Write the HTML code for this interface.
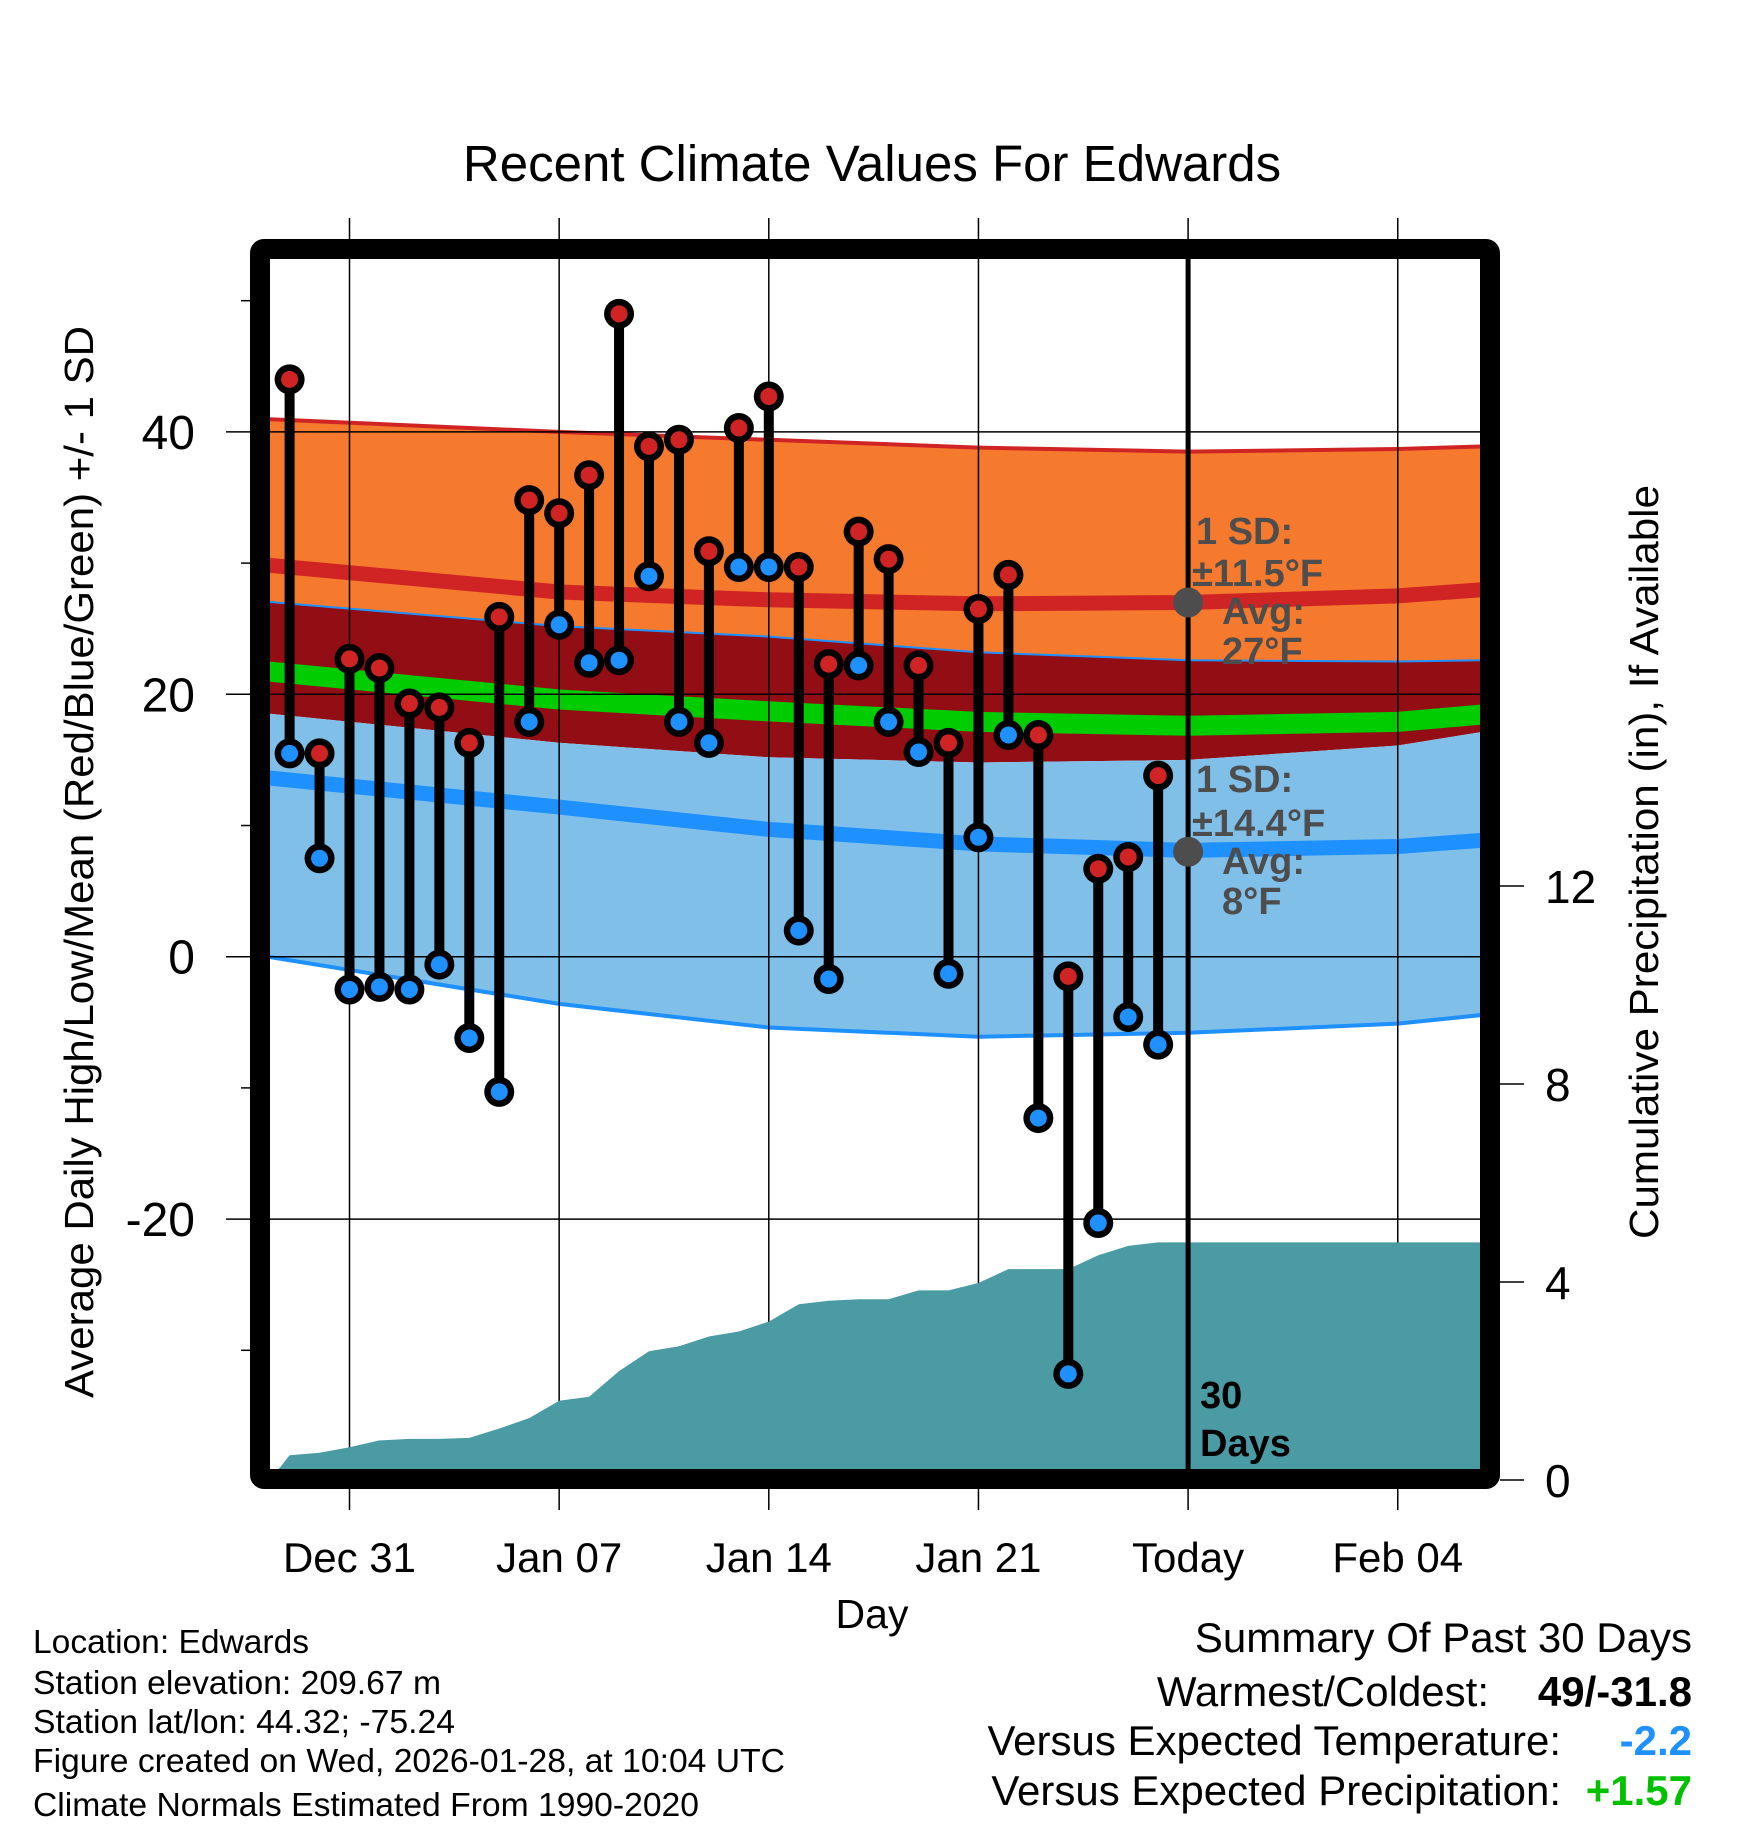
<!DOCTYPE html>
<html><head><meta charset="utf-8"><title>Recent Climate Values For Edwards</title>
<style>html,body{margin:0;padding:0;background:#fff}svg{display:block;font-family:"Liberation Sans",sans-serif}</style>
</head><body>
<svg id="chart" width="1748" height="1828" viewBox="0 0 1748 1828" xmlns="http://www.w3.org/2000/svg">
<defs><clipPath id="plotclip"><rect x="270" y="259" width="1210" height="1210"/></clipPath></defs>
<g id="bands" clip-path="url(#plotclip)"></g>
<g id="grid"></g>
<g id="precip" clip-path="url(#plotclip)"></g>
<g id="today"></g>
<g id="annot" font-weight="bold" fill="#4d4d4d" font-size="38">
  <text x="1196" y="544">1 SD:</text>
  <text x="1192" y="586">±11.5°F</text>
  <text x="1222" y="624">Avg:</text>
  <text x="1222" y="664">27°F</text>
  <text x="1196" y="792">1 SD:</text>
  <text x="1192" y="836">±14.4°F</text>
  <text x="1222" y="874">Avg:</text>
  <text x="1222" y="914">8°F</text>
</g>
<g id="obs"></g>
<g id="frame"></g>
<g id="axes"></g>
<text x="872" y="181" text-anchor="middle" font-size="51">Recent Climate Values For Edwards</text>
<text transform="translate(93,862) rotate(-90)" text-anchor="middle" font-size="41" textLength="1072" lengthAdjust="spacingAndGlyphs">Average Daily High/Low/Mean (Red/Blue/Green) +/- 1 SD</text>
<text transform="translate(1658,862) rotate(-90)" text-anchor="middle" font-size="41" textLength="754" lengthAdjust="spacingAndGlyphs">Cumulative Precipitation (in), If Available</text>
<text x="872" y="1628" text-anchor="middle" font-size="41">Day</text>
<g font-size="33.5">
  <text x="33" y="1653" textLength="276" lengthAdjust="spacingAndGlyphs">Location: Edwards</text>
  <text x="33" y="1694" textLength="408" lengthAdjust="spacingAndGlyphs">Station elevation: 209.67 m</text>
  <text x="33" y="1733" textLength="422" lengthAdjust="spacingAndGlyphs">Station lat/lon: 44.32; -75.24</text>
  <text x="33" y="1772" textLength="752" lengthAdjust="spacingAndGlyphs">Figure created on Wed, 2026-01-28, at 10:04 UTC</text>
  <text x="33" y="1816" textLength="666" lengthAdjust="spacingAndGlyphs">Climate Normals Estimated From 1990-2020</text>
</g>
<g font-size="42">
  <text x="1692" y="1652" text-anchor="end">Summary Of Past 30 Days</text>
  <text x="1489" y="1706" text-anchor="end">Warmest/Coldest:</text>
  <text x="1692" y="1706" text-anchor="end" font-weight="bold">49/-31.8</text>
  <text x="1561" y="1755" text-anchor="end">Versus Expected Temperature:</text>
  <text x="1692" y="1755" text-anchor="end" font-weight="bold" fill="#1e90ff">-2.2</text>
  <text x="1561" y="1805" text-anchor="end">Versus Expected Precipitation:</text>
  <text x="1692" y="1805" text-anchor="end" font-weight="bold" fill="#00c000">+1.57</text>
</g>
</svg>
<script>
// Observed days: index 1 = Dec 29 (days since Dec 28)
const obsDays = [1,2,3,4,5,6,7,8,9,10,11,12,13,14,15,16,17,18,19,20,21,22,23,24,25,26,27,28,29,30];
const highs = [44,15.5,22.7,22,19.3,19,16.3,25.9,34.8,33.8,36.7,49,38.9,39.4,30.9,40.3,42.7,29.7,22.3,32.4,30.3,22.2,16.3,26.5,29.1,16.9,-1.5,6.7,7.6,13.8];
const lows = [15.5,7.5,-2.5,-2.3,-2.5,-0.6,-6.2,-10.3,17.9,25.3,22.4,22.6,29,17.9,16.3,29.7,29.7,2,-1.7,22.2,17.9,15.6,-1.3,9.1,16.9,-12.3,-31.8,-20.3,-4.6,-6.7];
// Cumulative precipitation (in)
const precipDays = [0.35,1,2,3,4,5,6,7,8,9,10,11,12,13,14,15,16,17,18,19,20,21,22,23,24,25,26,27,28,29,30,31,41];
const precipVals = [0,0.5,0.55,0.66,0.8,0.83,0.83,0.85,1.04,1.25,1.6,1.68,2.2,2.6,2.7,2.9,3.0,3.2,3.55,3.62,3.65,3.65,3.83,3.83,3.98,4.26,4.26,4.26,4.54,4.73,4.8,4.8,4.8];
// Normals sampled by day
const normDays = [0,10,17,24,31,38,41];
const highPlusSD = [41.0,40.0,39.4,38.8,38.5,38.7,38.9];
const avgHigh = [29.9,27.8,27.2,26.9,27.0,27.5,28.0];
const highMinusSD = [27.1,25.2,24.4,23.2,22.6,22.5,22.6];
const meanTemp = [21.8,19.6,18.7,17.9,17.6,17.9,18.5];
const lowPlusSD = [18.6,16.3,15.2,14.8,15.0,16.1,17.2];
const avgLow = [13.7,11.4,9.7,8.6,8.1,8.4,8.9];
const lowMinusSD = [0.1,-3.6,-5.4,-6.1,-5.8,-5.1,-4.4];
const xTickDays = [3,10,17,24,31,38];
const xTickLabels = ["Dec 31","Jan 07","Jan 14","Jan 21","Today","Feb 04"];
const yTicks = [40,20,0,-20];
const yMinorTicks = [50,30,10,-10,-30];
const y2Ticks = [0,4,8,12];
const todayDay = 31;

const NS = "http://www.w3.org/2000/svg";
const xS = d => 349.5 + (d - 3) * 29.95;
const yT = t => 956.7 - t * 13.12;
const yP = p => 1480 - p * 49.5;
function mk(tag, attrs, parent){const e=document.createElementNS(NS,tag);for(const k in attrs)e.setAttribute(k,attrs[k]);parent.appendChild(e);return e;}
const pts = (ds, vs, f) => ds.map((d,i)=>xS(d).toFixed(1)+","+f(vs[i]).toFixed(1));
function band(top, bot, fill, name){
  const p = pts(normDays, top, yT).concat(pts(normDays, bot, yT).reverse());
  const el = mk("polygon",{points:p.join(" "),fill:fill},document.getElementById("bands"));
  
  
}
function line(vals, color, w, name){
  const el = mk("polyline",{points:pts(normDays, vals, yT).join(" "),fill:"none",stroke:color,"stroke-width":w},document.getElementById("bands"));
  
  
}
band(highPlusSD, highMinusSD, "#f57a2e", "high-sd-band");
band(highMinusSD, lowPlusSD, "#930d14", "overlap-band");
band(lowPlusSD, lowMinusSD, "#80c0e8", "low-sd-band");
line(highPlusSD, "#d02424", 4, "high-plus-sd-line");
line(highMinusSD, "#1e90ff", 2, "high-minus-sd-line");
line(lowMinusSD, "#1e90ff", 4, "low-minus-sd-line");
line(avgHigh, "#d02424", 15, "avg-high-line");
line(avgLow, "#1e90ff", 15, "avg-low-line");
line(meanTemp, "#00cc00", 20, "mean-temp-line");

const grid = document.getElementById("grid");
yTicks.forEach(t=>{
  const el = mk("line",{x1:270,x2:1480,y1:yT(t),y2:yT(t),stroke:"#000","stroke-width":1.5},grid);
  
  
});
xTickDays.forEach(d=>{
  const el = mk("line",{x1:xS(d),x2:xS(d),y1:218,y2:1510,stroke:"#000","stroke-width":1.5},grid);
  
  
});

const pr = document.getElementById("precip");
const pp = pts(precipDays, precipVals, yP);
pp.push(xS(41).toFixed(1)+","+yP(0), xS(0.35).toFixed(1)+","+yP(0));
const area = mk("polygon",{points:pp.join(" "),fill:"#4a9ba4"},pr);



const td = document.getElementById("today");
const tl = mk("line",{x1:xS(todayDay),x2:xS(todayDay),y1:259,y2:1469,stroke:"#000","stroke-width":5},td);


[[27,"high-avg-dot"],[8,"low-avg-dot"]].forEach(([v,n])=>{
  const c = mk("circle",{cx:xS(todayDay),cy:yT(v),r:15,fill:"#4d4d4d"},td);
  
  
});
const t30 = mk("text",{x:1200,y:1408,"font-size":38,"font-weight":"bold"},td); t30.textContent="30";


const tdy = mk("text",{x:1200,y:1456,"font-size":38,"font-weight":"bold"},td); tdy.textContent="Days";



const obs = document.getElementById("obs");
obsDays.forEach((d,i)=>{
  const x = xS(d);
  const s = mk("line",{x1:x,x2:x,y1:yT(highs[i]),y2:yT(lows[i]),stroke:"#000","stroke-width":10},obs);
  
  
});
obsDays.forEach((d,i)=>{
  const x = xS(d);
  [[lows[i],"#1e90ff","low-marker"],[highs[i],"#d02424","high-marker"]].forEach(([v,c,n])=>{
    const o = mk("circle",{cx:x,cy:yT(v),r:15,fill:"#000"},obs);
    
    
    const inn = mk("circle",{cx:x,cy:yT(v),r:8.5,fill:c},obs);
    
    
  });
});

const fr = document.getElementById("frame");
const box = mk("rect",{x:260,y:249,width:1230,height:1230,fill:"none",stroke:"#000","stroke-width":20,rx:4},fr);



const ax = document.getElementById("axes");
yTicks.forEach(t=>{
  const l = mk("line",{x1:226,x2:250,y1:yT(t),y2:yT(t),stroke:"#000","stroke-width":1.5},ax);
  
  
  const tx = mk("text",{x:195,y:yT(t)+17,"text-anchor":"end","font-size":48},ax);
  tx.textContent = String(t);
  
  
});
yMinorTicks.forEach(t=>{
  const l = mk("line",{x1:241,x2:250,y1:yT(t),y2:yT(t),stroke:"#000","stroke-width":1.5},ax);
  
  
});
y2Ticks.forEach(p=>{
  const l = mk("line",{x1:1500,x2:1524,y1:yP(p),y2:yP(p),stroke:"#000","stroke-width":1.5},ax);
  
  
  const tx = mk("text",{x:1545,y:yP(p)+17,"font-size":46},ax);
  tx.textContent = String(p);
  
  
});
xTickDays.forEach((d,i)=>{
  const tx = mk("text",{x:xS(d),y:1572,"text-anchor":"middle","font-size":42},ax);
  tx.textContent = xTickLabels[i];
  
  
});
</script>
</body></html>
